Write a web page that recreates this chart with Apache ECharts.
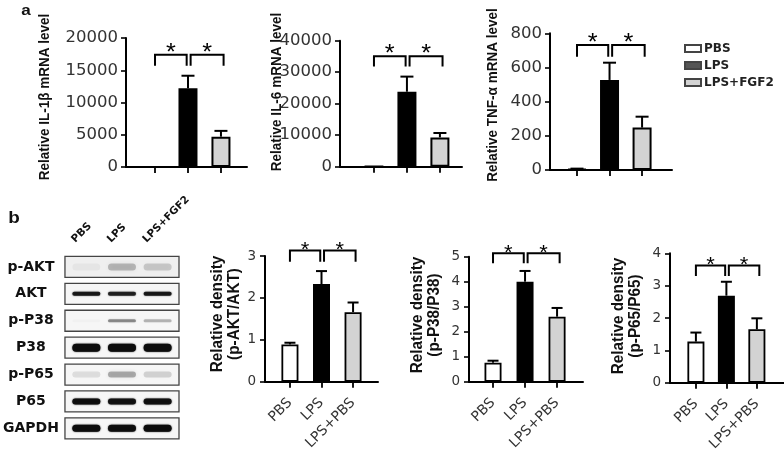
<!DOCTYPE html>
<html><head><meta charset="utf-8">
<script src="https://cdn.jsdelivr.net/npm/echarts@6/dist/echarts.min.js"></script>
<style>html,body{margin:0;padding:0;background:#fff}#c{width:784px;height:458px}</style>
</head><body><div id="c"></div>
<script>
// ---------------- data ----------------
const groups = ['PBS', 'LPS', 'LPS+FGF2'];
const densityLabels = ['PBS', 'LPS', 'LPS+PBS'];

const il1b = [20, 12200, 4700];
const il1bErr = [0, 1950, 900];
const il6 = [60, 23800, 9300];
const il6Err = [0, 4800, 1400];
const tnfa = [6, 527, 248];
const tnfaErr = [2, 101, 64];

const pAkt = [0.89, 2.33, 1.66];
const pAktErr = [0.04, 0.31, 0.23];
const pP38 = [0.76, 4.0, 2.6];
const pP38Err = [0.08, 0.43, 0.35];
const pP65 = [1.27, 2.69, 1.65];
const pP65Err = [0.28, 0.43, 0.34];

// significance brackets: [from group, to group, top level, leg level]
const il1bSig = [[0, 0.96, 17400, 15700], [1.08, 2.08, 17400, 15700]];
const il6Sig = [[0, 0.96, 35100, 31800], [1.08, 2.08, 35100, 31800]];
const tnfaSig = [[0, 0.96, 731, 663], [1.08, 2.08, 731, 663]];
const pAktSig = [[0, 0.96, 3.13, 2.86], [1.08, 2.08, 3.13, 2.86]];
const pP38Sig = [[0, 0.96, 5.14, 4.74], [1.08, 2.08, 5.14, 4.74]];
const pP65Sig = [[0, 0.96, 3.62, 3.30], [1.08, 2.08, 3.62, 3.30]];

// western blot rows and relative band darkness per lane (PBS, LPS, LPS+FGF2)
const blotRows = ['p-AKT', 'AKT', 'p-P38', 'P38', 'p-P65', 'P65', 'GAPDH'];
const bandPAkt = [0.04, 0.24, 0.17];
const bandAkt = [0.85, 0.8, 0.85];
const bandPP38 = [0.02, 0.4, 0.25];
const bandP38 = [1, 1, 1];
const bandPP65 = [0.1, 0.3, 0.15];
const bandP65 = [0.95, 0.9, 0.92];
const bandGapdh = [1, 0.95, 1];
const blotBands = [bandPAkt, bandAkt, bandPP38, bandP38, bandPP65, bandP65, bandGapdh];

// ---------------- styles ----------------
const barColors = ['#ffffff', '#000000', '#d3d3d3'];
const legendColors = ['#ffffff', '#555555', '#d3d3d3'];
const bandThick = [7, 4, 3, 8, 6, 6, 7];
const bandBlur = [5, 1.5, 2, 1.5, 4, 1.5, 1.5];
const tickFont = 'DejaVu Sans';
const stretch = 1.18; // the reference artwork is widened horizontally
const titleStretch = 1.1;

const panels = [
  {vals: il1b, errs: il1bErr, sig: il1bSig, grid: {left: 126, top: 38, width: 121, height: 129}, xr: [-0.88, 2.79], ymax: 20000, yint: 5000, bottom: false,
   title: 'Relative IL-1β mRNA level', tx: 45, ty: 97},
  {vals: il6, errs: il6Err, sig: il6Sig, grid: {left: 340, top: 40.7, width: 122, height: 126}, xr: [-1.03, 2.67], ymax: 40000, yint: 10000, bottom: false,
   title: 'Relative IL-6 mRNA level', tx: 277, ty: 92},
  {vals: tnfa, errs: tnfaErr, sig: tnfaSig, grid: {left: 550, top: 33.3, width: 122, height: 136.7}, xr: [-0.83, 2.92], ymax: 800, yint: 200, bottom: false,
   title: 'Relative TNF-α mRNA level', tx: 493, ty: 95},
  {vals: pAkt, errs: pAktErr, sig: pAktSig, grid: {left: 265, top: 256, width: 113, height: 125.7}, xr: [-0.79, 2.79], ymax: 3, yint: 1, bottom: true,
   title: 'Relative density\n(p-AKT/AKT)', tx: 226, ty: 314},
  {vals: pP38, errs: pP38Err, sig: pP38Sig, grid: {left: 469, top: 256.7, width: 114, height: 125}, xr: [-0.75, 2.81], ymax: 5, yint: 1, bottom: true,
   title: 'Relative density\n(p-P38/P38)', tx: 426, ty: 315},
  {vals: pP65, errs: pP65Err, sig: pP65Sig, grid: {left: 670, top: 253.3, width: 114, height: 129.4}, xr: [-0.85, 2.89], ymax: 4, yint: 1, bottom: true,
   title: 'Relative density\n(p-P65/P65)', tx: 627, ty: 316}
];

function txt(text, size, family, weight, extra) {
  return Object.assign({text: text, fontSize: size, fontFamily: family, fontWeight: weight, fill: '#111',
    align: 'center', verticalAlign: 'middle', textAlign: 'center', textVerticalAlign: 'middle'}, extra || {});
}

const option = {animation: false, grid: [], xAxis: [], yAxis: [], series: [], graphic: []};

panels.forEach((p, k) => {
  const big = !p.bottom;
  option.grid.push(Object.assign({containLabel: false}, p.grid));
  option.xAxis.push({
    gridIndex: k, type: 'value', min: p.xr[0], max: p.xr[1],
    axisLine: {show: true, onZero: false, lineStyle: {color: '#000', width: 2}},
    axisTick: {show: true, customValues: [0, 1, 2], length: 6, lineStyle: {color: '#000', width: 1.8}},
    axisLabel: p.bottom ? {show: true, customValues: [0, 1, 2], formatter: v => densityLabels[Math.round(v)], rotate: 45, margin: 19,
      fontFamily: tickFont, fontSize: 14, color: '#333'} : {show: false},
    splitLine: {show: false}
  });
  option.yAxis.push({
    gridIndex: k, type: 'value', min: 0, max: p.ymax, interval: p.yint,
    axisLine: {show: true, onZero: false, lineStyle: {color: '#000', width: 2}},
    axisTick: {show: true, length: 5, lineStyle: {color: '#000', width: 1.6}},
    axisLabel: {fontFamily: tickFont, fontSize: big ? 16.5 : 13.5, color: '#333', margin: big ? 8 : 9, formatter: v => String(v)},
    splitLine: {show: false}
  });
  option.series.push({
    type: 'bar', xAxisIndex: k, yAxisIndex: k, barWidth: big ? 19 : 17,
    itemStyle: {borderColor: '#000', borderWidth: big ? 2 : 1.8},
    data: p.vals.map((v, i) => ({value: [i, v], itemStyle: {color: barColors[i]}})),
    z: 2
  });
  const capW = big ? 13 : 11;
  option.series.push({
    type: 'custom', xAxisIndex: k, yAxisIndex: k, z: 3,
    data: p.vals.map((v, i) => [i, v, v + p.errs[i]]),
    encode: {x: 0, y: [1, 2]},
    renderItem: (params, api) => {
      const i = api.value(0), v = api.value(1), t = api.value(2);
      if (!(t > v)) return null;
      const p0 = api.coord([i, v]), p1 = api.coord([i, t]);
      return {type: 'group', children: [
        {type: 'line', shape: {x1: p0[0], y1: p0[1], x2: p1[0], y2: p1[1]}, style: {stroke: '#000', lineWidth: 2}},
        {type: 'line', shape: {x1: p1[0] - capW / 2, y1: p1[1], x2: p1[0] + capW / 2, y2: p1[1]}, style: {stroke: '#000', lineWidth: 2}}
      ]};
    }
  });
  const starSize = big ? 23 : 20;
  const starOff = big ? 1 : 0;
  option.series.push({
    type: 'custom', xAxisIndex: k, yAxisIndex: k, z: 4, clip: false,
    data: p.sig,
    encode: {x: [0, 1], y: [2, 3]},
    renderItem: (params, api) => {
      const a = api.coord([api.value(0), api.value(3)]);
      const b = api.coord([api.value(0), api.value(2)]);
      const c = api.coord([api.value(1), api.value(2)]);
      const d = api.coord([api.value(1), api.value(3)]);
      return {type: 'group', children: [
        {type: 'polyline', shape: {points: [a, b, c, d]}, style: {stroke: '#000', lineWidth: 2, fill: null}},
        {type: 'text', x: (b[0] + c[0]) / 2, y: b[1] - starOff, scaleX: 1.1,
         style: txt('*', starSize, 'Liberation Sans', 'normal', {fill: '#000'})}
      ]};
    }
  });
  // rotated title: local y (glyph height) maps to screen x, widened slightly like the artwork
  option.graphic.push({
    type: 'text', x: p.tx, y: p.ty, rotation: Math.PI / 2, scaleY: titleStretch,
    style: txt(p.title, big ? 13.5 : 15.3, 'Liberation Sans', 'bold', {lineHeight: 15.5})
  });
});

// ---------------- western blot ----------------
const bi = panels.length; // 6
option.grid.push({left: 63, top: 253.5, width: 116, height: 188.3});
option.xAxis.push({gridIndex: bi, type: 'value', min: -0.6, max: 2.6, show: false});
option.yAxis.push({gridIndex: bi, type: 'category', data: blotRows, inverse: true,
  axisLine: {show: false}, axisTick: {show: false},
  axisLabel: {align: 'center', margin: 34, fontFamily: 'DejaVu Sans', fontWeight: 'bold', fontSize: 14, color: '#111'}});
option.series.push({
  type: 'custom', xAxisIndex: bi, yAxisIndex: bi, z: 1,
  data: blotRows.map((r, i) => [-0.6, i]),
  encode: {x: 0, y: 1},
  renderItem: (params, api) => {
    const row = api.value(1);
    const l = api.coord([-0.6, row]), r = api.coord([2.6, row]);
    return {type: 'rect', shape: {x: l[0], y: l[1] - 10.5, width: r[0] - l[0], height: 21},
      style: {fill: row === 0 ? '#efefef' : '#f6f6f6', stroke: '#444', lineWidth: 1.3}};
  }
});
const bandData = [];
blotBands.forEach((arr, row) => arr.forEach((v, lane) => bandData.push([lane, row, v])));
option.series.push({
  type: 'custom', xAxisIndex: bi, yAxisIndex: bi, z: 2,
  data: bandData,
  encode: {x: 0, y: 1},
  renderItem: (params, api) => {
    const lane = api.value(0), row = api.value(1), k = api.value(2);
    const c = api.coord([lane, row]);
    const th = bandThick[row], w = 28;
    const col = 'rgba(12,12,12,' + k + ')';
    return {type: 'rect', shape: {x: c[0] - w / 2, y: c[1] - th / 2, width: w, height: th, r: th / 2},
      style: {fill: col, shadowBlur: bandBlur[row], shadowColor: col}};
  }
});

// ---------------- legend (via empty series on hidden grid) ----------------
const li = bi + 1;
option.grid.push({left: 0, top: 0, width: 1, height: 1, show: false});
option.xAxis.push({gridIndex: li, type: 'category', data: [], show: false});
option.yAxis.push({gridIndex: li, type: 'value', show: false});
groups.forEach((g, i) => option.series.push({
  type: 'bar', name: g, xAxisIndex: li, yAxisIndex: li, data: [],
  itemStyle: {color: legendColors[i], borderColor: '#444', borderWidth: 1.5}
}));
option.legend = {orient: 'vertical', left: 679, top: 37, itemWidth: 16, itemHeight: 7, itemGap: 4, icon: 'rect',
  selectedMode: false, data: groups,
  textStyle: {fontFamily: 'DejaVu Sans', fontWeight: 'bold', fontSize: 12, color: '#222', lineHeight: 13, padding: [0, 0, 0, -2]}};

// panel letters
option.graphic.push({type: 'text', x: 26, y: 11, scaleX: stretch, style: txt('a', 14.5, 'Liberation Sans', 'bold')});
option.graphic.push({type: 'text', x: 14, y: 219, scaleX: stretch, style: txt('b', 16, 'Liberation Sans', 'bold')});

const chart = echarts.init(document.getElementById('c'), null, {renderer: 'canvas'});
chart.setOption(option);

// lane labels above the blot, placed through the blot grid's scale
const laneGraphics = groups.map((g, j) => {
  const px = chart.convertToPixel({gridIndex: bi}, [j, 0]);
  return {type: 'text', x: px[0] - 13, y: 241, rotation: Math.PI / 4,
    style: txt(g, 10.5, 'DejaVu Sans', 'bold', {align: 'left', textAlign: 'left'})};
});
chart.setOption({graphic: option.graphic.concat(laneGraphics)});
</script></body></html>
